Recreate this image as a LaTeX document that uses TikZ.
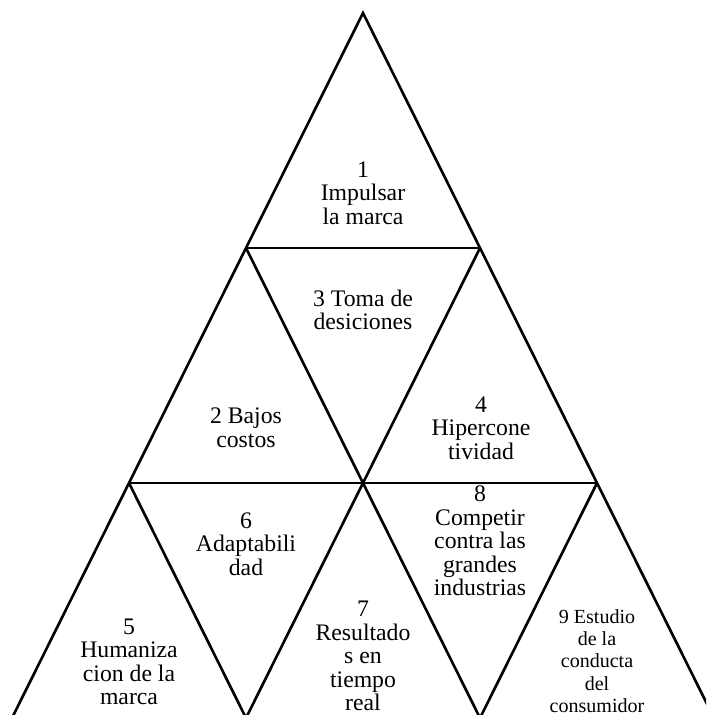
\documentclass[tikz,border=0pt]{standalone}
\usepackage{fontspec}
\setmainfont{Liberation Serif}
\usetikzlibrary{positioning}

\begin{document}
\begin{tikzpicture}[x=0.02cm, y=-0.02cm,
    edge/.style={line width=1.5pt, line join=miter},
    label/.style={font=\fontsize{13.5}{13.4}\selectfont, align=center, inner sep=0pt},
    smalllabel/.style={font=\fontsize{11.4}{12.7}\selectfont, align=center, inner sep=0pt},
]
\clip (0,0) rectangle (706,715);

% Corner points
\coordinate (top) at (363,13);
\coordinate (l1) at (246,248);
\coordinate (r1) at (480,248);
\coordinate (l2) at (129,483);
\coordinate (m2) at (363,483);
\coordinate (r2) at (597,483);
\coordinate (b1) at (12,718);
\coordinate (b2) at (246,718);
\coordinate (b3) at (480,718);
\coordinate (b4) at (714,718);

% Edges
\draw[edge] (b1) -- (top) -- (b4);
\draw[edge] (l1) -- (r1);
\draw[edge] (l2) -- (r2);
\draw[edge] (l1) -- (b3);
\draw[edge] (r1) -- (b2);
\draw[edge] (l2) -- (b2);
\draw[edge] (r2) -- (b3);

% Labels
\node[label] (impulsar) at (363,193) {1\\Impulsar\\la marca};
\node[label] (costos) at (246,428) {2 Bajos\\costos};
\node[label] (decisiones) at (363,310) {3 Toma de\\desiciones};
\node[label] (hiper) at (481,428) {4\\Hipercone\\tividad};
\node[label] (humaniza) at (129,662) {5\\Humaniza\\cion de la\\marca};
\node[label] (adapta) at (246,544) {6\\Adaptabili\\dad};
\node[label] (resultados) at (363,656) {7\\Resultado\\s en\\tiempo\\real};
\node[label] (competir) at (480,541) {8\\Competir\\contra las\\grandes\\industrias};
\node[smalllabel] (conducta) at (597,661) {9 Estudio\\de la\\conducta\\del\\consumidor};

\end{tikzpicture}
\end{document}
